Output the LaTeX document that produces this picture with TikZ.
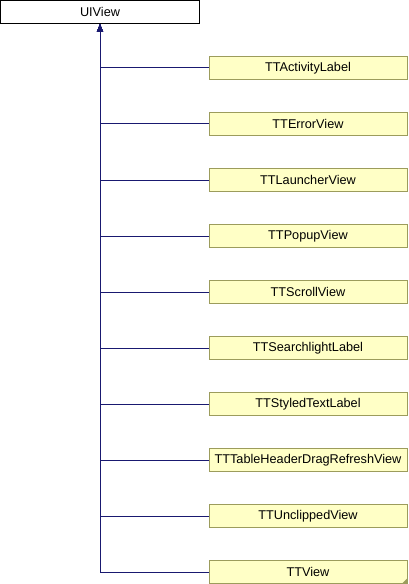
\documentclass[tikz,border=0pt]{standalone}
\usepackage{fontspec}
\setmainfont{Liberation Sans}
\usetikzlibrary{arrows.meta}
\definecolor{edgeblue}{HTML}{191970}
\definecolor{boxfill}{HTML}{FFFFC6}
\definecolor{boxline}{HTML}{9C9C5C}
\tikzset{
  base/.style={draw=black,fill=white,line width=1bp,minimum width=198bp,minimum height=23bp,inner sep=0pt,font=\fontsize{12.7bp}{15bp}\selectfont},
  kid/.style={base,draw=boxline,fill=boxfill},
  inherit/.style={draw=edgeblue,line width=1bp,-{Triangle[length=8bp,width=6bp]}}
}
\begin{document}
\begin{tikzpicture}[x=1bp,y=-1bp]
\useasboundingbox (0,0) rectangle (408,584);
  \node[base] (a0) at (100,12) {UIView};
 \node[kid] (a1) at (308,68) {TTActivityLabel};
 \node[kid] (a2) at (308,124) {TTErrorView};
  \node[kid] (a3) at (308,180) {TTLauncherView};
 \node[kid] (a4) at (308,236) {TTPopupView};
   \node[kid] (a5) at (308,292) {TTScrollView};
 \node[kid] (a6) at (308,348) {TTSearchlightLabel};
  \node[kid] (a7) at (308,404) {TTStyledTextLabel};
 \node[kid] (a8) at (308,460) {TTTableHeaderDragRefreshView};
 \node[kid] (a9) at (308,516) {TTUnclippedView};
  \node[kid] (a10) at (308,572) {TTView};
\fill[boxline] ([xshift=-6bp]a10.south east) -- (a10.south east) -- ([yshift=6bp]a10.south east) -- cycle;
 \draw[inherit] (a1.west) -| (a0.south);
 \draw[inherit] (a2.west) -| (a0.south);
 \draw[inherit] (a3.west) -| (a0.south);
 \draw[inherit] (a4.west) -| (a0.south);
 \draw[inherit] (a5.west) -| (a0.south);
\draw[inherit] (a6.west) -| (a0.south);
\draw[inherit] (a7.west) -| (a0.south);
\draw[inherit] (a8.west) -| (a0.south);
\draw[inherit] (a9.west) -| (a0.south);
\draw[inherit] (a10.west) -| (a0.south);

\end{tikzpicture}
\end{document}
